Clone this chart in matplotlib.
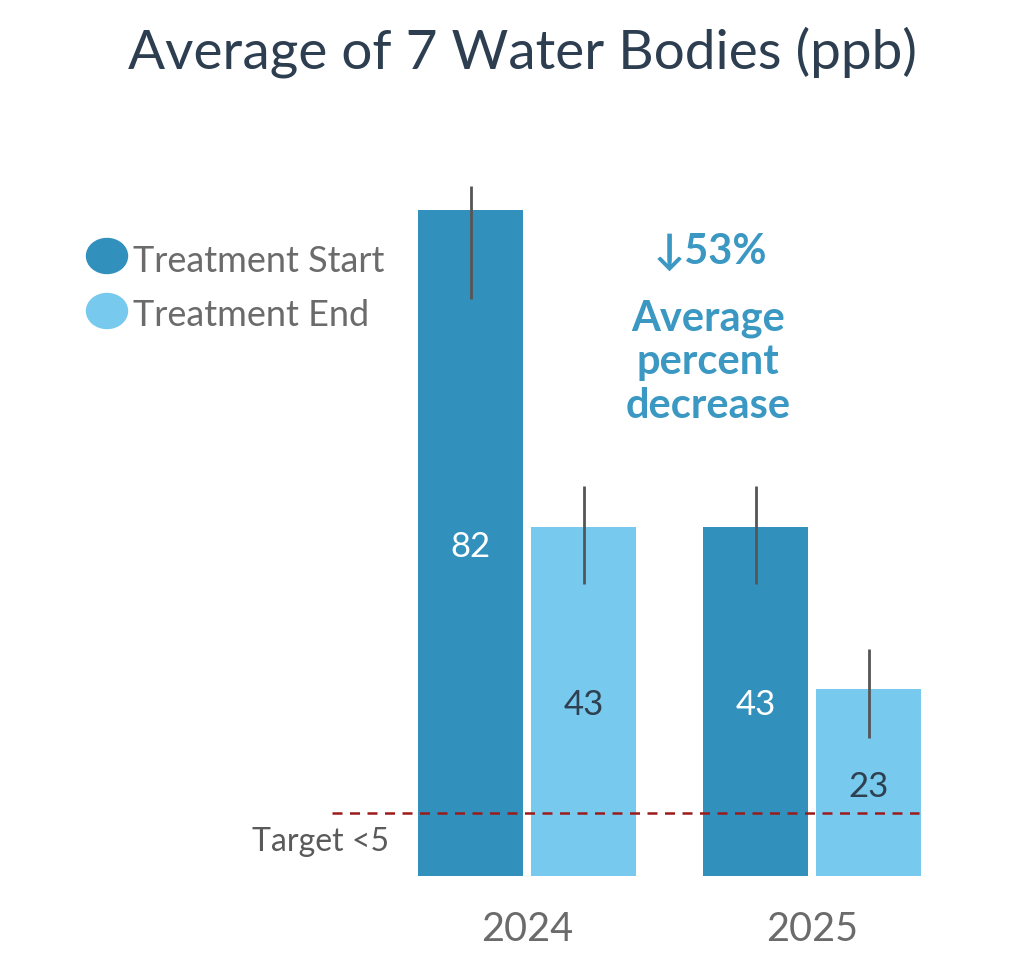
import matplotlib
matplotlib.use("Agg")
import matplotlib.pyplot as plt
from matplotlib.patches import Ellipse
import numpy as np

# ---- data ----
years = ["2024", "2025"]
series_names = ["Treatment Start", "Treatment End"]
start_vals = [82, 43]
end_vals = [43, 23]
start_err_low = [71, 36]
start_err_high = [85, 48]
end_err_low = [36, 17]
end_err_high = [48, 28]
target_value = 7.8
target_label = "Target <5"
annotation_pct = "↓53%"
annotation_text = "Average\npercent\ndecrease"
title = "Average of 7 Water Bodies (ppb)"

dark = "#3190bc"
light = "#77c9ee"
gray = "#6b6b6b"
errc = "#555555"
accent = "#3a98c2"

plt.rcParams['font.family'] = ['Lato', 'DejaVu Sans']

W, H = 1024, 967
fig = plt.figure(figsize=(W / 100, H / 100), dpi=100)

# axes in pixel geometry
ax_l, ax_r, ax_t, ax_b = 300, 950, 150, 876
ax = fig.add_axes([ax_l / W, 1 - ax_b / H, (ax_r - ax_l) / W, (ax_b - ax_t) / H])
ppu = 285.0  # pixels per group unit
ax.set_xlim(-(527 - ax_l) / ppu, 1 + (ax_r - 812) / ppu)
ax.set_ylim(0, (ax_b - ax_t) / 8.12)
ax.axis("off")

x = np.arange(len(years))
bw = 105 / ppu
off = 56.5 / ppu

def yerr(vals, lo, hi):
    return [np.array(vals) - np.array(lo), np.array(hi) - np.array(vals)]

ax.bar(x - off, start_vals, bw, color=dark, zorder=1)
ax.bar(x + off, end_vals, bw, color=light, zorder=1)
ax.errorbar(x - off, start_vals, yerr=yerr(start_vals, start_err_low, start_err_high),
            fmt="none", ecolor=errc, elinewidth=2, capsize=0, zorder=3)
ax.errorbar(x + off, end_vals, yerr=yerr(end_vals, end_err_low, end_err_high),
            fmt="none", ecolor=errc, elinewidth=2, capsize=0, zorder=3)

# value labels
for xi, v in zip(x - off, start_vals):
    ax.text(xi, v / 2 - 0.5, str(v), ha="center", va="center", fontsize=25, color="white", zorder=4)
for xi, v in zip(x + off, end_vals):
    ax.text(xi, v / 2 - 0.5, str(v), ha="center", va="center", fontsize=25, color="#2f4050", zorder=4)

# target line
ax.plot([(332 - 527) / ppu, (919 - 527) / ppu], [target_value, target_value],
        color="#9b1b1b", lw=1.8, ls=(0, (4, 3)), zorder=2)
ax.text((389 - 527) / ppu, target_value - 1.8, target_label, ha="right", va="top",
        fontsize=23, color="#5a5a5a")

# year labels
for xi, yr in zip(x, years):
    ax.text(xi, -6.6, yr, ha="center", va="center", fontsize=28.5, color=gray, clip_on=False)

# annotation
fig.text(710 / W, 1 - 252 / H, annotation_pct, ha="center", va="center", fontsize=30,
         fontweight="bold", color=accent)
fig.text(708 / W, 1 - 362 / H, annotation_text, ha="center", va="center", fontsize=30,
         fontweight="bold", color=accent, linespacing=1.18)

# title
fig.text(522 / W, 1 - 52 / H, title, ha="center", va="center", fontsize=39.5, color="#2d3e50")

# legend
for i, (name, col) in enumerate(zip(series_names, [dark, light])):
    cy = 256 + i * 55
    fig.add_artist(Ellipse((107 / W, 1 - cy / H), 41 / W, 35 / H, transform=fig.transFigure,
                           color=col))
    fig.text(133 / W, 1 - (cy + 5) / H, name, ha="left", va="center", fontsize=26, color=gray)

fig.savefig("out.png", dpi=100)
